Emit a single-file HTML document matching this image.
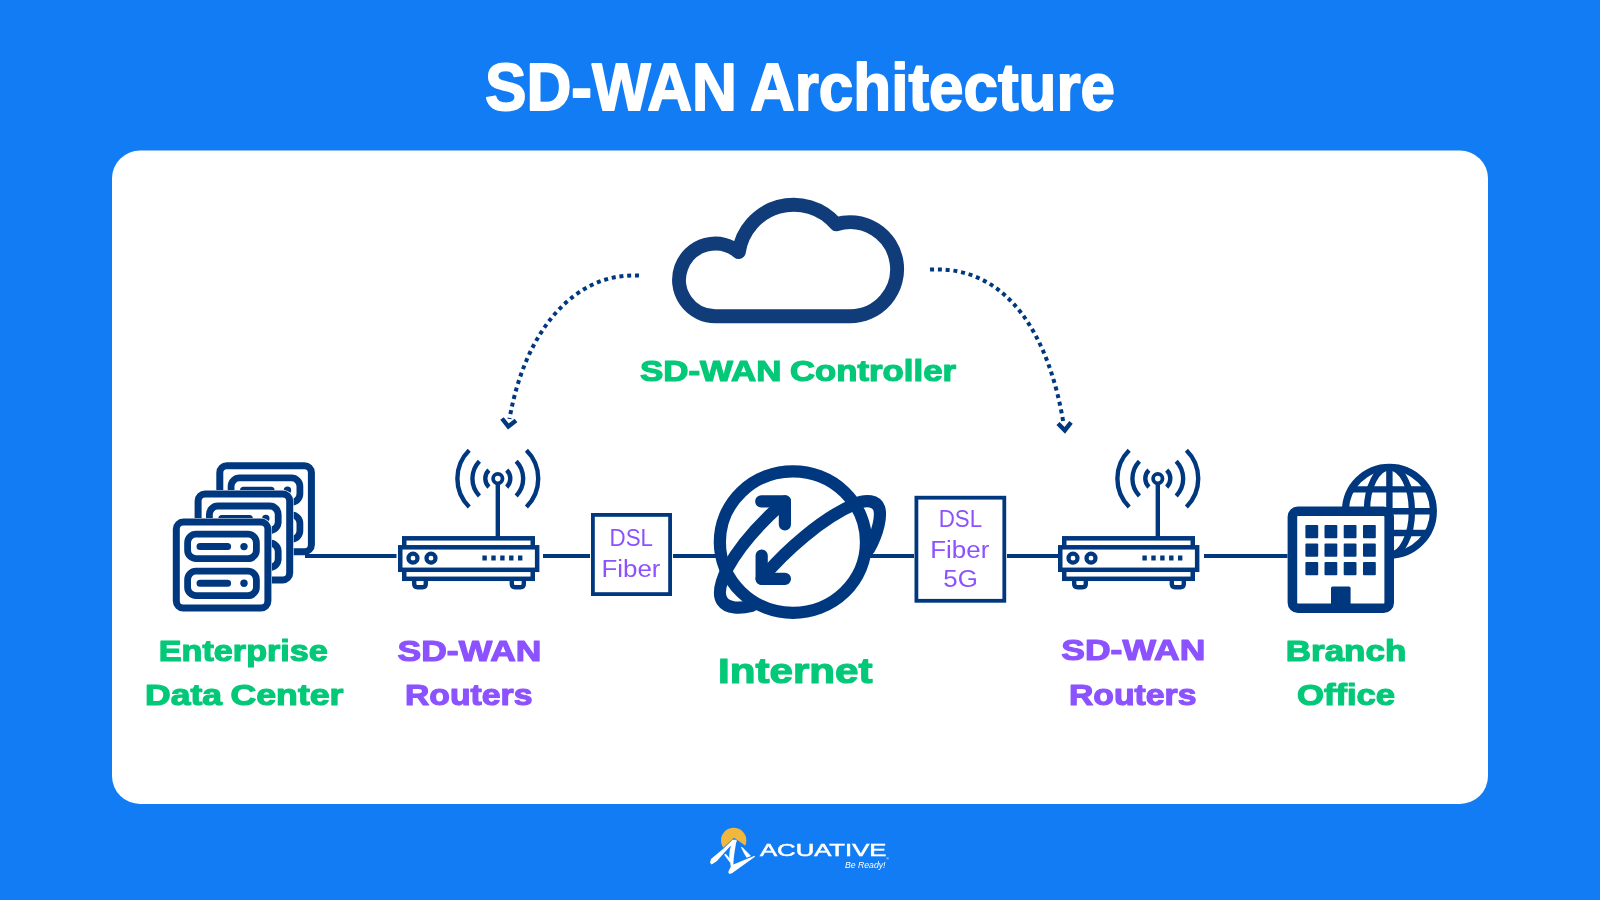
<!DOCTYPE html>
<html lang="en">
<head>
<meta charset="utf-8">
<title>SD-WAN Architecture</title>
<style>
  html, body { margin: 0; padding: 0; width: 1600px; height: 900px; overflow: hidden; background: #127cf4; }
  svg { display: block; position: absolute; left: 0; top: 0; will-change: transform; }
  text { -webkit-font-smoothing: antialiased; }
  text { font-family: "Liberation Sans", sans-serif; }
  .b { font-weight: bold; }
  .g { fill: #03c878; }
  .p { fill: #8c52ff; }
  .g.sk { stroke: #03c878; stroke-width: 1.2; stroke-linejoin: round; }
  .p.sk { stroke: #8c52ff; stroke-width: 1.2; stroke-linejoin: round; }
  .n { stroke: #00387f; fill: none; }
  .nf { fill: #00387f; stroke: none; }
</style>
</head>
<body>
<svg width="1600" height="900" viewBox="0 0 1600 900">
  <!-- background + card -->
  <rect x="0" y="0" width="1600" height="900" fill="#127cf4"/>
  <rect x="112" y="150.5" width="1376" height="653.5" rx="28" ry="28" fill="#ffffff"/>

  <!-- title -->
  <g class="b" fill="#ffffff" stroke="#ffffff" stroke-width="1.8" stroke-linejoin="round" font-size="66.5">
    <text x="485" y="110.4" textLength="252" lengthAdjust="spacingAndGlyphs">SD-WAN</text>
    <text x="750" y="110.4" textLength="365" lengthAdjust="spacingAndGlyphs">Architecture</text>
  </g>

  <!-- cloud -->
  <path d="M715.4 316.2 A36.3 36.3 0 1 1 738.7 252.1 A55.7 55.7 0 0 1 836.2 224.3 A47 47 0 1 1 850 316.2 Z"
        fill="none" stroke="#113c7a" stroke-width="14" stroke-linejoin="round"/>

  <!-- controller label -->
  <g class="b g sk" font-size="29.4">
    <text x="640" y="380.6" textLength="141.5" lengthAdjust="spacingAndGlyphs">SD-WAN</text>
    <text x="790" y="380.6" textLength="166" lengthAdjust="spacingAndGlyphs">Controller</text>
  </g>

  <!-- main connection line segments -->
  <g class="n" stroke-width="4">
    <path d="M543 556H590 M673 556H716 M870 556H914 M1007 556H1059 M1204 556H1287.5"/>
  </g>


  <!-- server stack (3 boxes) -->
  <defs>
    <g id="srv">
      <rect x="3.5" y="3.5" width="91.6" height="86" rx="7" ry="7" fill="#ffffff" stroke="#ffffff" stroke-width="8"/>
      <rect x="3.5" y="3.5" width="91.6" height="86" rx="7" ry="7" fill="#ffffff" stroke="#00387f" stroke-width="7"/>
      <rect x="14.8" y="15.6" width="68.8" height="24.5" rx="8.5" ry="8.5" fill="none" stroke="#00387f" stroke-width="6.8"/>
      <rect x="14.8" y="52.6" width="68.8" height="24.5" rx="8.5" ry="8.5" fill="none" stroke="#00387f" stroke-width="6.8"/>
      <path d="M27.2 28H54.8 M27.2 64.6H54.8" fill="none" stroke="#00387f" stroke-width="7" stroke-linecap="round"/>
      <circle cx="71.2" cy="28" r="3.7" fill="#00387f"/>
      <circle cx="71.2" cy="64.6" r="3.7" fill="#00387f"/>
    </g>
    <g id="router">
      <!-- antenna waves -->
      <g fill="none" stroke="#00387f" stroke-width="4.4">
        <path d="M88.9 40.1 A11.8 11.8 0 0 0 88.9 57.1"/>
        <path d="M106.7 40.1 A11.8 11.8 0 0 1 106.7 57.1"/>
        <path d="M79.4 31.2 A25.2 25.2 0 0 0 79.4 66"/>
        <path d="M116.2 31.2 A25.2 25.2 0 0 1 116.2 66"/>
        <path d="M69.2 20.2 A40 40 0 0 0 69.2 77"/>
        <path d="M126.4 20.2 A40 40 0 0 1 126.4 77"/>
      </g>
      <path d="M97.8 54V108" fill="none" stroke="#00387f" stroke-width="4.4"/>
      <circle cx="97.8" cy="48.6" r="4.7" fill="#ffffff" stroke="#00387f" stroke-width="3.8"/>
      <!-- body -->
      <g fill="#ffffff" stroke="#00387f" stroke-width="4.5">
        <path d="M14.2 148.8 V154 Q14.2 157.2 17.4 157.2 H22.6 Q25.8 157.2 25.8 154 V148.8 M111.8 148.8 V154 Q111.8 157.2 115 157.2 H120.6 Q123.8 157.2 123.8 154 V148.8" stroke-width="4.4"/>
        <rect x="4.25" y="108.3" width="128.5" height="40.5"/>
        <rect x="0.25" y="117.3" width="136.9" height="22.5"/>
      </g>
      <circle cx="13" cy="128.2" r="4.5" fill="#ffffff" stroke="#00387f" stroke-width="4.2"/>
      <circle cx="31" cy="128.2" r="4.5" fill="#ffffff" stroke="#00387f" stroke-width="4.2"/>
      <path d="M82.4 128H126.5" fill="none" stroke="#00387f" stroke-width="4.8" stroke-dasharray="4.4 4.5"/>
    </g>
  </defs>
  <use href="#srv" x="216.3" y="462.2"/>
  <use href="#srv" x="194.6" y="490.4"/>
  <use href="#srv" x="172.8" y="518.6"/>

  <!-- routers -->
  <use href="#router" x="400" y="430"/>
  <use href="#router" x="1060" y="430"/>


  <path class="n" stroke-width="4" d="M305 556H396.5"/>

  <!-- DSL boxes -->
  <rect class="n" x="592.9" y="514.9" width="77.2" height="79.2" stroke-width="3.8" fill="#ffffff"/>
  <rect class="n" x="916.4" y="497.7" width="87.9" height="103.1" stroke-width="3.8" fill="#ffffff"/>
  <g class="p" font-size="23">
    <text x="609.5" y="546.3" textLength="43.5" lengthAdjust="spacingAndGlyphs">DSL</text>
    <text x="601.5" y="577.4" textLength="59" lengthAdjust="spacingAndGlyphs">Fiber</text>
    <text x="938.7" y="526.9" textLength="43.5" lengthAdjust="spacingAndGlyphs">DSL</text>
    <text x="930.3" y="557.5" textLength="59" lengthAdjust="spacingAndGlyphs">Fiber</text>
    <text x="943.3" y="586.8" textLength="34.5" lengthAdjust="spacingAndGlyphs">5G</text>
  </g>

  <!-- internet globe with orbit arrows -->
  <g transform="translate(700 450) scale(0.2112)" fill="none" stroke="#00387f" stroke-width="58" stroke-linecap="round" stroke-linejoin="round">
    <ellipse cx="440" cy="436" rx="346" ry="335"/>
    <path d="M245 738 C190 752 130 752 105 715 C85 685 95 630 130 560 C190 450 290 340 402 243"/>
    <path d="M290 243 H402 V352"/>
    <path d="M292 610 C400 480 580 320 735 255 C790 232 835 240 848 275 C860 310 845 390 800 470"/>
    <path d="M292 500 V610 H402"/>
  </g>

  <!-- branch office: globe + building -->
  <g fill="none" stroke="#00387f">
    <clipPath id="gc"><circle cx="1389.4" cy="511.2" r="44"/></clipPath>
    <g clip-path="url(#gc)" stroke-width="6.4">
      <path d="M1340 489.4H1440 M1340 511.2H1440 M1340 533H1440 M1389.4 460V560"/>
      <ellipse cx="1389.4" cy="511.2" rx="22.5" ry="44"/>
    </g>
    <circle cx="1389.4" cy="511.2" r="44" stroke-width="7"/>
    <rect x="1292.4" y="511.2" width="96.8" height="97" rx="5.5" ry="5.5" stroke-width="9.6" fill="#ffffff"/>
  </g>
  <g class="nf">
    <rect x="1305.4" y="525" width="12.8" height="13.2" rx="1"/><rect x="1324.5" y="525" width="12.8" height="13.2" rx="1"/><rect x="1343.7" y="525" width="12.8" height="13.2" rx="1"/><rect x="1363" y="525" width="12.8" height="13.2" rx="1"/>
    <rect x="1305.4" y="543.5" width="12.8" height="13.2" rx="1"/><rect x="1324.5" y="543.5" width="12.8" height="13.2" rx="1"/><rect x="1343.7" y="543.5" width="12.8" height="13.2" rx="1"/><rect x="1363" y="543.5" width="12.8" height="13.2" rx="1"/>
    <rect x="1305.4" y="562" width="12.8" height="13.2" rx="1"/><rect x="1324.5" y="562" width="12.8" height="13.2" rx="1"/><rect x="1343.7" y="562" width="12.8" height="13.2" rx="1"/><rect x="1363" y="562" width="12.8" height="13.2" rx="1"/>
    <path d="M1331 605V588a1.6 1.6 0 0 1 1.6 -1.6h16.4a1.6 1.6 0 0 1 1.6 1.6V605Z"/>
  </g>

  <!-- dotted arrows -->
  <g fill="none" stroke="#00387f" stroke-width="4">
    <path d="M639 275.6 C575 272 525 330 509.5 419" stroke-dasharray="4 3.8"/>
    <path d="M502 418.5 L508.3 426.5 L516 420.5" stroke-width="4.4"/>
    <path d="M930 269.6 C1010 265 1050 340 1063.6 424" stroke-dasharray="4 3.8"/>
    <path d="M1058 423.5 L1064.8 430.4 L1071 422.3" stroke-width="4.4"/>
  </g>

  <!--ICONS3-->

  <!-- bottom labels -->
  <g class="b g sk" font-size="30.2">
    <text x="158.8" y="660.6" textLength="169" lengthAdjust="spacingAndGlyphs">Enterprise</text>
    <text x="145" y="704.6" textLength="77" lengthAdjust="spacingAndGlyphs">Data</text>
    <text x="230.5" y="704.6" textLength="113" lengthAdjust="spacingAndGlyphs">Center</text>
    <text x="1285.8" y="661.0" textLength="120.5" lengthAdjust="spacingAndGlyphs">Branch</text>
    <text x="1297" y="704.9" textLength="98" lengthAdjust="spacingAndGlyphs">Office</text>
  </g>
  <g class="b p sk" font-size="30.2">
    <text x="397.5" y="660.6" textLength="144" lengthAdjust="spacingAndGlyphs">SD-WAN</text>
    <text x="405" y="704.6" textLength="127.5" lengthAdjust="spacingAndGlyphs">Routers</text>
    <text x="1061.3" y="660.1" textLength="144" lengthAdjust="spacingAndGlyphs">SD-WAN</text>
    <text x="1069" y="704.9" textLength="127.5" lengthAdjust="spacingAndGlyphs">Routers</text>
  </g>
  <text class="b g sk" font-size="35.6" x="718" y="683.0" textLength="154.5" lengthAdjust="spacingAndGlyphs">Internet</text>


  <!-- Acuative logo -->
  <g transform="translate(700 820) scale(0.066667)">
    <circle cx="505" cy="308" r="190" fill="#efb73e"/>
    <path d="M512 268 L860 515 L240 515 Z" fill="#127cf4"/>
    <g fill="#ffffff">
      <path d="M150 640 L165 585 L350 430 L490 298 L545 296 L548 330 L450 398 L350 505 L255 615 L175 668 Z"/>
      <path d="M500 300 L548 300 C530 420 505 530 500 668 L820 538 L824 552 L480 800 C450 818 415 800 428 768 L462 700 C455 620 432 570 440 500 C448 430 470 360 500 300 Z"/>
      <path d="M612 402 L640 414 L765 540 L700 566 L655 492 Z"/>
      <path d="M362 522 L386 508 L462 592 L452 640 Z"/>
    </g>
  </g>
  <text x="760" y="855.8" font-size="16.2" fill="#ffffff" stroke="#ffffff" stroke-width="0.5" textLength="126.4" lengthAdjust="spacingAndGlyphs">ACUATIVE</text>
  <text x="845" y="868" font-size="9" font-style="italic" fill="#ffffff" textLength="40.5" lengthAdjust="spacingAndGlyphs">Be Ready!</text>
  <text x="886.3" y="860.3" font-size="3.6" fill="#ffffff">®</text>

</svg>
</body>
</html>
